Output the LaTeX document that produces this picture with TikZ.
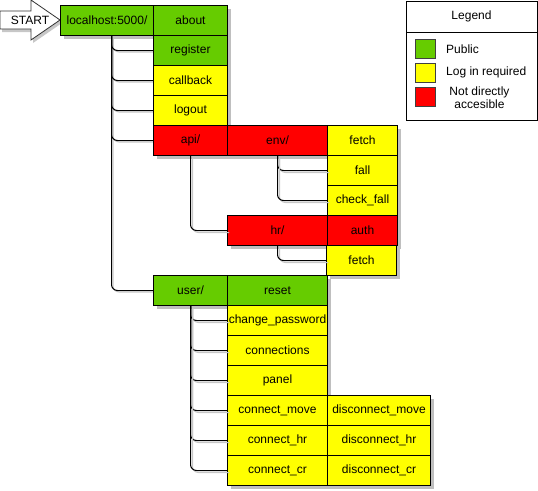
\documentclass[tikz,border=0pt]{standalone}
\usepackage{fontspec}
\setmainfont{Liberation Sans}
\usetikzlibrary{shadows}
\definecolor{pub}{HTML}{66CC00}
\definecolor{login}{HTML}{FFFF00}
\definecolor{nda}{HTML}{FF0000}
\tikzset{
  txt/.style={font=\fontsize{12}{14}\selectfont},
  box/.style={draw=black, line width=1pt, inner sep=0pt, anchor=north west, txt,
    minimum height=30pt,
    general shadow={fill=black!25, shadow xshift=3pt, shadow yshift=-3pt}},
  pubbox/.style={box, fill=pub},
  logbox/.style={box, fill=login},
  ndabox/.style={box, fill=nda},
  conn/.style={draw=black, line width=1pt, rounded corners=6pt},
  connsh/.style={draw=black!22, line width=1pt, rounded corners=6pt,
    transform canvas={shift={(2pt,-2pt)}}},
  swatch/.style={draw=black!75, line width=1pt, minimum width=20pt, minimum height=19pt,
    inner sep=0pt, anchor=north west},
}
\begin{document}
\begin{tikzpicture}[x=1pt, y=-1pt]
\useasboundingbox (0,0) rectangle (538,490);

% START arrow
\fill[black!22] (2,14) -- (33,14) -- (33,3) -- (62,23) -- (33,43) -- (33,32) -- (2,32) -- cycle;
\draw[fill=white, line width=0.8pt, draw=black!80] (0,11) -- (31,11) -- (31,0) -- (60,20) -- (31,40) -- (31,29) -- (0,29) -- cycle;
\node[txt] (start) at (30,20) {START};

% connectors (drawn under boxes)
\coordinate (lhroot) at (111,35);
\foreach \c/\yy in {50,80,110,140,290} {
  \draw[connsh] (111,35) |- (153,\c);
}
% nodes
\node[pubbox, minimum width=93pt] (lh) at (60,5) {localhost:5000/};
\node[pubbox, minimum width=74pt] (about) at (153,5) {about};
\node[pubbox, minimum width=74pt] (reg) at (153,35) {register};
\node[logbox, minimum width=74pt] (cb) at (153,65) {callback};
\node[logbox, minimum width=74pt] (lo) at (153,95) {logout};
\node[ndabox, minimum width=74pt] (api) at (153,125) {api/};

\node[ndabox, minimum width=100pt] (env) at (227,125) {env/};
\node[logbox, minimum width=70pt] (fetcha) at (327,125) {fetch};
\node[logbox, minimum width=70pt] (fall) at (327,155) {fall};
\node[logbox, minimum width=70pt] (check) at (327,185) {check\_fall};

\node[ndabox, minimum width=100pt] (hr) at (227,215) {hr/};
\node[ndabox, minimum width=70pt] (auth) at (327,215) {auth};
\node[logbox, minimum width=70pt] (fetchb) at (326,245) {fetch};

\node[pubbox, minimum width=74pt] (user) at (153,275) {user/};
\node[pubbox, minimum width=100pt] (reset) at (227,275) {reset};
\node[logbox, minimum width=100pt] (chpw) at (227,305) {change\_password};
\node[logbox, minimum width=100pt] (conns) at (227,335) {connections};
\node[logbox, minimum width=100pt] (panel) at (227,365) {panel};
\node[logbox, minimum width=100pt] (cmove) at (227,395) {connect\_move};
\node[logbox, minimum width=100pt] (chr) at (227,425) {connect\_hr};
\node[logbox, minimum width=100pt] (ccr) at (227,455) {connect\_cr};
\node[logbox, minimum width=103pt] (dmove) at (327,395) {disconnect\_move};
\node[logbox, minimum width=103pt] (dhr) at (327,425) {disconnect\_hr};
\node[logbox, minimum width=103pt] (dcr) at (327,455) {disconnect\_cr};

% connectors
\begin{scope}[on background layer/.style={}]
\foreach \t in {reg,cb,lo,api,user} {
  \draw[conn] ([xshift=4.5pt]lh.south) |- (\t.west);
}
\foreach \p/\t in {api/hr, env/fall, env/check, hr/fetchb, user/chpw, user/conns, user/panel, user/cmove, user/chr, user/ccr} {
  \draw[connsh] (\p.south) |- (\t.west);
  \draw[conn] (\p.south) |- (\t.west);
}
\end{scope}

% legend
\node[draw=black, line width=1pt, minimum width=131pt, minimum height=119.5pt, inner sep=0pt, anchor=north west] (legend) at (406,0.5) {};
\draw[line width=1pt] (legend.west |- 0,32) -- (legend.east |- 0,32);
\node[txt] (legtitle) at (471.5,16) {Legend};
\node[swatch, fill=pub] (swpub) at (415,39) {};
\node[swatch, fill=login] (swlog) at (415,62.5) {};
\node[swatch, fill=nda] (swnda) at (415,87) {};
\node[txt, anchor=west, inner sep=0pt] (lpub) at (446,49) {Public};
\node[txt, anchor=west, inner sep=0pt] (llog) at (446,72.5) {Log in required};
\node[txt, align=center, inner sep=0pt] (lnda) at (479.5,97.5) {Not directly\\[-1pt]accesible};
\end{tikzpicture}
\end{document}
